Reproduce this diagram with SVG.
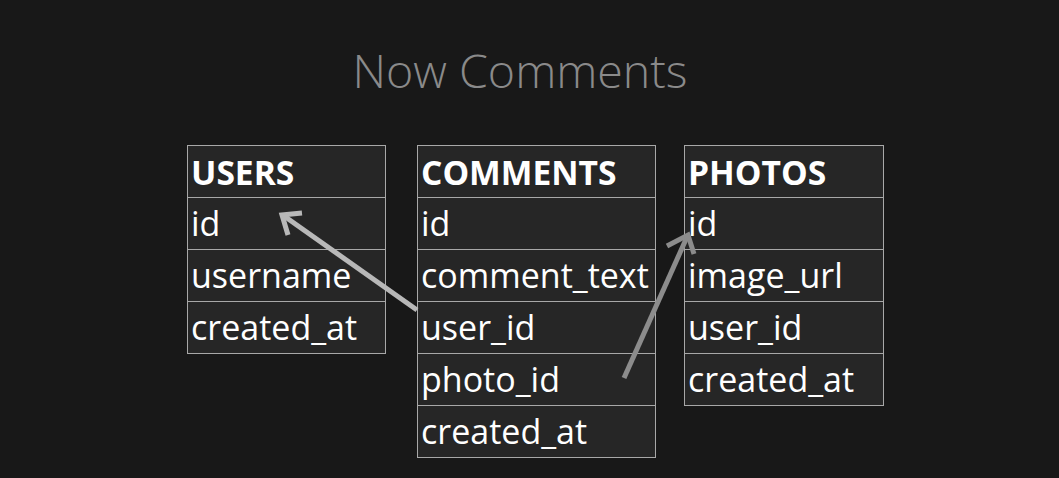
<svg xmlns="http://www.w3.org/2000/svg" width="1059" height="478" viewBox="0 0 1059 478">
<style>
.cell{fill:#262626;stroke:#a8a8a8;stroke-width:1}
.t{font-family:"Open Sans",sans-serif;font-size:34px;fill:#ffffff}
.h{font-weight:bold;font-size:33.6px}
.title{font-family:"Open Sans",sans-serif;font-weight:300;font-size:46.5px;fill:#8a8a8a}
</style>
<rect width="1059" height="478" fill="#181818"/>
<text class="title" x="520" y="88" text-anchor="middle">Now Comments</text>
<g id="users">
<rect class="cell" x="187.5" y="145.5" width="198" height="52"/>
<rect class="cell" x="187.5" y="197.5" width="198" height="52"/>
<rect class="cell" x="187.5" y="249.5" width="198" height="52"/>
<rect class="cell" x="187.5" y="301.5" width="198" height="52"/>
<text class="t h" x="191" y="185">USERS</text>
<text class="t" x="191" y="236">id</text>
<text class="t" x="191" y="288">username</text>
<text class="t" x="191" y="340">created_at</text>
</g>
<g id="comments">
<rect class="cell" x="417.5" y="145.5" width="238" height="52"/>
<rect class="cell" x="417.5" y="197.5" width="238" height="52"/>
<rect class="cell" x="417.5" y="249.5" width="238" height="52"/>
<rect class="cell" x="417.5" y="301.5" width="238" height="52"/>
<rect class="cell" x="417.5" y="353.5" width="238" height="52"/>
<rect class="cell" x="417.5" y="405.5" width="238" height="52"/>
<text class="t h" x="421" y="185">COMMENTS</text>
<text class="t" x="421" y="236">id</text>
<text class="t" x="421" y="288">comment_text</text>
<text class="t" x="421" y="340">user_id</text>
<text class="t" x="421" y="392">photo_id</text>
<text class="t" x="421" y="444">created_at</text>
</g>
<g id="photos">
<rect class="cell" x="684.5" y="145.5" width="199" height="52"/>
<rect class="cell" x="684.5" y="197.5" width="199" height="52"/>
<rect class="cell" x="684.5" y="249.5" width="199" height="52"/>
<rect class="cell" x="684.5" y="301.5" width="199" height="52"/>
<rect class="cell" x="684.5" y="353.5" width="199" height="52"/>
<text class="t h" x="688" y="185">PHOTOS</text>
<text class="t" x="688" y="236">id</text>
<text class="t" x="688" y="288">image_url</text>
<text class="t" x="688" y="340">user_id</text>
<text class="t" x="688" y="392">created_at</text>
</g>
<g id="connectors" fill="none" stroke-width="5" stroke-linecap="butt" stroke-linejoin="miter">
<line x1="417" y1="310" x2="284" y2="216" stroke="#b8b8b8"/>
<polyline points="288,235 282,215 302,213" stroke="#b8b8b8"/>
<line x1="624" y1="378" x2="687" y2="237" stroke="#8c8c8c"/>
<polyline points="667,246 688,235 694,254" stroke="#8c8c8c"/>
</g>
</svg>
